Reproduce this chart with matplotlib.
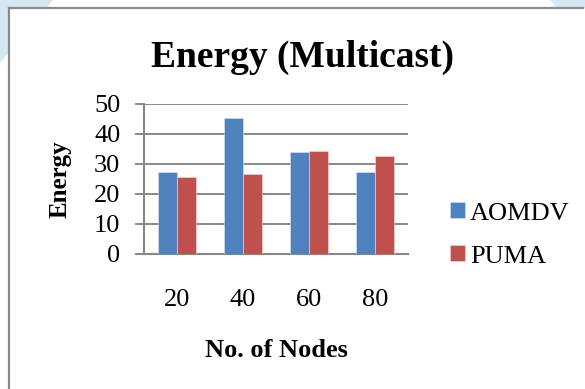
import matplotlib
matplotlib.use("Agg")
import matplotlib.pyplot as plt
from matplotlib.patches import Polygon, Rectangle
from matplotlib.lines import Line2D
import numpy as np

plt.rcParams['font.family'] = ['Liberation Serif', 'DejaVu Serif']

nodes = ['20', '40', '60', '80']
aomdv = [27.2, 45.4, 33.9, 27.3]
puma = [25.8, 26.6, 34.2, 32.6]
series_names = ['AOMDV', 'PUMA']
series_colors = ['#4F81BD', '#C0504D']
y_ticks = [0, 10, 20, 30, 40, 50]

W, H = 585, 389
fig = plt.figure(figsize=(W / 100, H / 100), dpi=100)
fig.patch.set_facecolor('white')


def px(x, y):
    # pixel coords (origin top-left) -> figure fraction
    return x / W, 1 - y / H


# light blue page decoration behind the chart frame
blue = '#d5e8f2'
for pts in ([(0, 0), (53, 0), (0, 63)],
            [(550, 0), (585, 0), (585, 8), (557, 8)]):
    fig.add_artist(Polygon([px(*p) for p in pts], closed=True,
                           transform=fig.transFigure, facecolor=blue,
                           edgecolor='none', zorder=-20))

# chart area with grey frame on left and top
fig.add_artist(Rectangle(px(9, 400), 600 / W, 392 / H, transform=fig.transFigure,
                         facecolor='white', edgecolor='none', zorder=-15))
frame = '#8a8a8a'
fig.add_artist(Line2D([px(9, 8)[0], px(9, 389)[0]], [px(9, 8)[1], px(9, 389)[1]],
                      transform=fig.transFigure, color=frame, lw=1.6, zorder=-10))
fig.add_artist(Line2D([px(9, 8)[0], px(583, 8)[0]], [px(9, 8)[1], px(583, 8)[1]],
                      transform=fig.transFigure, color=frame, lw=1.6, zorder=-10))

# plot area
left, right, top, bottom = 144, 408, 104, 254
ax = fig.add_axes([left / W, 1 - bottom / H, (right - left) / W, (bottom - top) / H])
ax.set_facecolor('none')

x = np.arange(len(nodes))
w = 1 / 3.5
b1 = ax.bar(x - w / 2, aomdv, w, color=series_colors[0], edgecolor='#dfe7f2',
            linewidth=0.4, zorder=3, label=series_names[0])
b2 = ax.bar(x + w / 2, puma, w, color=series_colors[1], edgecolor='#f0dcdc',
            linewidth=0.4, zorder=3, label=series_names[1])

grid = '#878787'
ax.set_xlim(-0.5, len(nodes) - 0.5)
ax.set_ylim(0, 50)
ax.set_yticks(y_ticks)
ax.yaxis.grid(True, color=grid, linewidth=1.4)
ax.set_axisbelow(True)
for s in ('top', 'right'):
    ax.spines[s].set_visible(False)
for s in ('left', 'bottom'):
    ax.spines[s].set_color(grid)
    ax.spines[s].set_linewidth(1.5)
ax.tick_params(axis='y', length=6.5, width=1.4, color=grid, pad=10.5, labelsize=19)
ax.tick_params(axis='x', length=0, pad=25, labelsize=19)
ax.set_xticks(x)
ax.set_xticklabels(nodes)

fig.text(*px(302, 67), 'Energy (Multicast)', ha='center', va='baseline',
         fontsize=27, fontweight='bold')
fig.text(*px(276, 357), 'No. of Nodes', ha='center', va='baseline',
         fontsize=19, fontweight='bold')
fig.text(*px(60, 179), 'Energy', ha='center', va='center', rotation=90,
         fontsize=18, fontweight='bold')

fig.legend(handles=[b1, b2], labels=series_names, loc='center left',
           bbox_to_anchor=px(450, 235), frameon=False, fontsize=19,
           handlelength=0.55, handleheight=0.55, handletextpad=0.2,
           labelspacing=0.78, borderpad=0, borderaxespad=0)

fig.savefig('out.png', dpi=100)
